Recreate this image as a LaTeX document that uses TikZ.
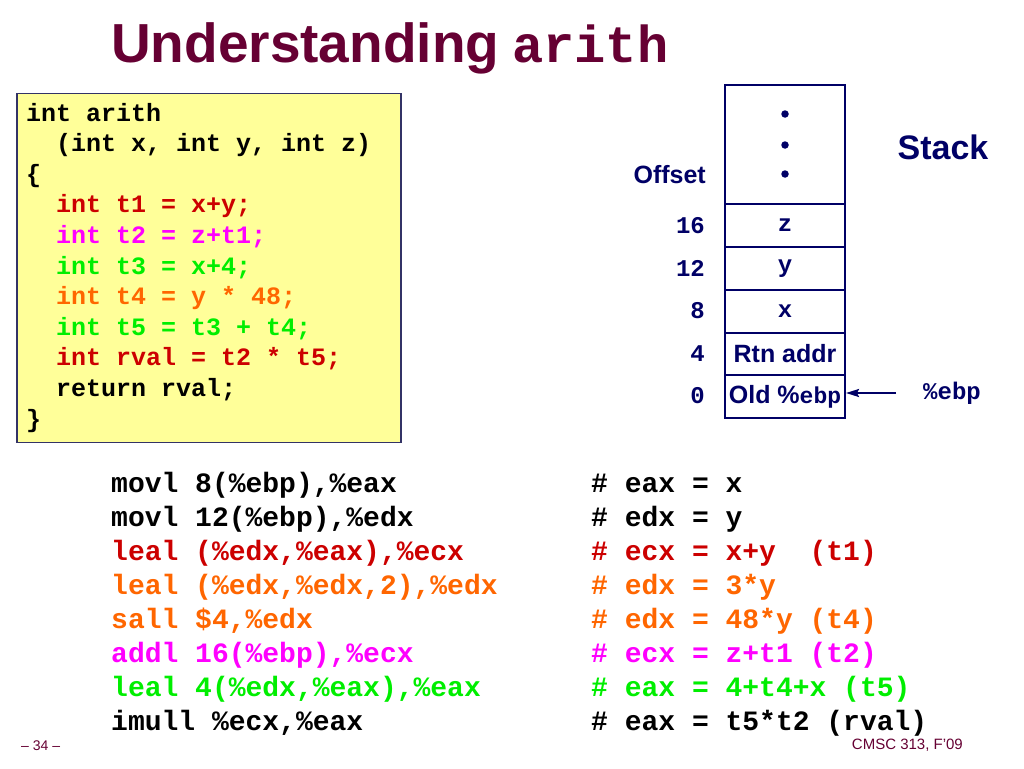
\documentclass[tikz,border=0pt]{standalone}
\usepackage{fontspec}
\setmainfont{Liberation Sans}
\setmonofont{Liberation Mono}
\usetikzlibrary{arrows.meta}
\definecolor{navy}{HTML}{000066}
\definecolor{maroon}{HTML}{660033}
\definecolor{boxfill}{HTML}{FFFF99}
\definecolor{boxline}{HTML}{333366}
\definecolor{cred}{HTML}{CC0000}
\definecolor{cmag}{HTML}{FF00FF}
\definecolor{cgreen}{HTML}{00EE00}
\definecolor{corange}{HTML}{FF6600}
\begin{document}
\begin{tikzpicture}[x=1pt,y=-1pt,
  code/.style={anchor=base west, inner sep=0pt, font=\fontsize{25}{30}\selectfont\ttfamily\bfseries},
  asm/.style={anchor=base west, inner sep=0pt, font=\fontsize{28}{34}\selectfont\ttfamily\bfseries},
  cell/.style={draw=navy, line width=2pt, minimum width=120pt, inner sep=0pt, text=navy},
  celltt/.style={cell, font=\fontsize{24}{28}\selectfont\ttfamily\bfseries},
  cellsf/.style={cell, font=\fontsize{25}{28}\selectfont\bfseries},
  offs/.style={anchor=east, inner sep=0pt, text=navy, font=\fontsize{24}{28}\selectfont\ttfamily\bfseries},
  sdot/.style={circle, fill=navy, inner sep=0pt, minimum size=7.5pt}]
\useasboundingbox (0,0) rectangle (1024,768);
\fill[white] (0,0) rectangle (1024,768);

% title
\node[anchor=base west, inner sep=0pt, text=maroon, font=\fontsize{55}{60}\selectfont\bfseries] (title) at (111,63) {Understanding};
\node[anchor=base west, inner sep=0pt, text=maroon, font=\fontsize{52}{60}\selectfont\ttfamily\bfseries] (titlett) at (512,63) {arith};

% code box
\node[draw=boxline, fill=boxfill, line width=1.5pt, minimum width=384pt, minimum height=349pt, inner sep=0pt] (codebox) at (209,268) {};
\node[code] (c1) at (26,121) {int arith};
\node[code] (c2) at (56,151.6) {(int x, int y, int z)};
\node[code] (c3) at (26,182.2) {\{};
\node[code, text=cred] (c4) at (56,212.8) {int t1 = x+y;};
\node[code, text=cmag] (c5) at (56,243.4) {int t2 = z+t1;};
\node[code, text=cgreen] (c6) at (56,274) {int t3 = x+4;};
\node[code, text=corange] (c7) at (56,304.6) {int t4 = y * 48;};
\node[code, text=cgreen] (c8) at (56,335.2) {int t5 = t3 + t4;};
\node[code, text=cred] (c9) at (56,365.8) {int rval = t2 * t5;};
\node[code] (c10) at (56,396.4) {return rval;};
\node[code] (c11) at (26,427) {\}};

% stack
\node[cell, minimum height=119pt] (top) at (785,144.5) {};
\node[sdot] (d1) at (785,114) {};
\node[sdot] (d2) at (785,145) {};
\node[sdot] (d3) at (785,174) {};
\node[celltt, minimum height=43pt] (cz) at (785,225.5) {z};
\node[celltt, minimum height=43pt] (cy) at (785,268.5) {y};
\node[celltt, minimum height=43pt] (cx) at (785,311) {x};
\node[cellsf, minimum height=42pt] (crtn) at (785,354) {Rtn addr};
\node[cellsf, minimum height=43pt] (cold) at (785,396.5) {Old \%{\fontsize{23}{28}\selectfont\ttfamily\bfseries ebp}};

\node[anchor=east, inner sep=0pt, text=navy, font=\fontsize{25}{28}\selectfont\bfseries] (offset) at (706,175) {Offset};
\node[offs] (o16) at (705,225.5) {16};
\node[offs] (o12) at (705,268) {12};
\node[offs] (o8) at (705,311) {8};
\node[offs] (o4) at (705,353.5) {4};
\node[offs] (o0) at (705,396) {0};

\node[inner sep=0pt, text=navy, font=\fontsize{34}{40}\selectfont\bfseries] (stack) at (943,147) {Stack};
\node[inner sep=0pt, text=navy, font=\fontsize{24}{28}\selectfont\ttfamily\bfseries] (ebp) at (952,393) {\%ebp};
\coordinate (arrstart) at (896,393);
\draw[navy, line width=2pt, -{Stealth[length=13pt, width=8pt, inset=2pt]}] (arrstart) -- (arrstart -| cold.east);

% assembly
\node[asm] (a1) at (111,492) {movl 8(\%ebp),\%eax};
\node[asm] (a2) at (111,526) {movl 12(\%ebp),\%edx};
\node[asm, text=cred] (a3) at (111,560) {leal (\%edx,\%eax),\%ecx};
\node[asm, text=corange] (a4) at (111,594) {leal (\%edx,\%edx,2),\%edx};
\node[asm, text=corange] (a5) at (111,628) {sall \$4,\%edx};
\node[asm, text=cmag] (a6) at (111,662) {addl 16(\%ebp),\%ecx};
\node[asm, text=cgreen] (a7) at (111,696) {leal 4(\%edx,\%eax),\%eax};
\node[asm] (a8) at (111,730) {imull \%ecx,\%eax};

\node[asm] (b1) at (591,492) {\# eax = x};
\node[asm] (b2) at (591,526) {\# edx = y};
\node[asm, text=cred] (b3) at (591,560) {\# ecx = x+y~ (t1)};
\node[asm, text=corange] (b4) at (591,594) {\# edx = 3*y};
\node[asm, text=corange] (b5) at (591,628) {\# edx = 48*y (t4)};
\node[asm, text=cmag] (b6) at (591,662) {\# ecx = z+t1 (t2)};
\node[asm, text=cgreen] (b7) at (591,696) {\# eax = 4+t4+x (t5)};
\node[asm] (b8) at (591,730) {\# eax = t5*t2 (rval)};

% footer
\node[anchor=west, inner sep=0pt, text=maroon, font=\fontsize{14}{16}\selectfont] (pg) at (21,746) {– 34 –};
\node[anchor=east, inner sep=0pt, text=maroon, font=\fontsize{15}{17}\selectfont] (course) at (963,745) {CMSC 313, F'09};
\end{tikzpicture}
\end{document}
